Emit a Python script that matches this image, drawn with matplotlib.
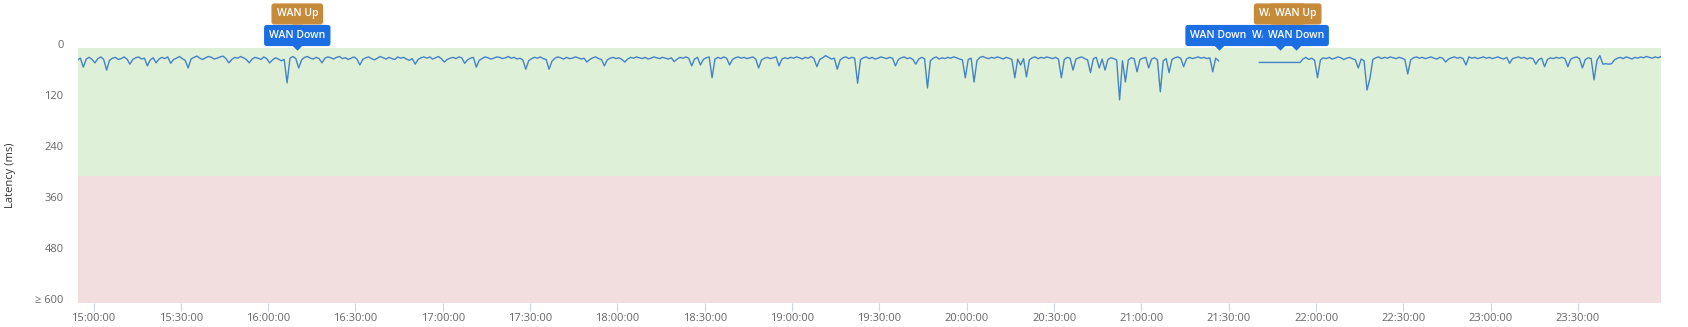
import numpy as np
import pandas as pd
import matplotlib
matplotlib.use("Agg")
import matplotlib.pyplot as plt
import matplotlib.dates as mdates
from matplotlib.transforms import ScaledTranslation

plt.rcParams['font.family'] = ['Open Sans', 'DejaVu Sans']

nan = float('nan')

# latency samples, one per minute starting 14:54:30
start_time = '2021-01-01 14:54:30'
latency = [
    28, 24, 45, 26, 22, 27, 35, 25, 21, 27, 52, 29, 24, 22, 27, 25, 21, 26, 38, 27, 23, 21, 26, 24, 42, 28, 23, 35, 26, 22,
    25, 21, 36, 27, 24, 20, 25, 29, 47, 26, 22, 19, 24, 27, 23, 20, 22, 26, 24, 21, 19, 25, 35, 27, 22, 24, 20, 23, 27, 35,
    26, 22, 24, 27, 21, 25, 35, 28, 23, 26, 30, 27, 82, 24, 20, 25, 47, 28, 22, 20, 24, 26, 22, 25, 35, 24, 21, 23, 26, 22,
    20, 25, 23, 27, 24, 21, 26, 40, 27, 23, 21, 25, 28, 24, 20, 23, 26, 22, 25, 27, 21, 24, 22, 26, 29, 25, 38, 27, 23, 21,
    24, 21, 26, 23, 20, 25, 33, 27, 24, 22, 25, 21, 23, 36, 28, 24, 22, 45, 29, 25, 21, 23, 26, 24, 21, 22, 25, 23, 20, 24,
    22, 26, 24, 28, 50, 30, 25, 22, 24, 21, 25, 27, 50, 31, 24, 21, 23, 26, 22, 25, 24, 21, 23, 26, 24, 33, 27, 23, 21, 25,
    27, 42, 28, 24, 22, 25, 23, 27, 33, 26, 22, 24, 21, 23, 25, 22, 26, 24, 21, 23, 25, 22, 24, 26, 23, 32, 26, 22, 24, 21,
    24, 42, 26, 22, 40, 27, 23, 21, 70, 26, 22, 25, 21, 24, 40, 27, 23, 21, 24, 22, 25, 23, 21, 26, 47, 28, 24, 22, 25, 23,
    21, 42, 26, 23, 25, 22, 24, 21, 23, 26, 22, 24, 20, 25, 44, 27, 23, 18, 22, 26, 24, 50, 28, 23, 21, 25, 22, 24, 83, 27,
    23, 21, 25, 22, 26, 24, 21, 23, 25, 22, 24, 42, 27, 23, 21, 25, 23, 27, 38, 26, 22, 25, 94, 30, 24, 21, 26, 23, 25, 22,
    24, 21, 23, 26, 28, 70, 27, 24, 80, 30, 22, 20, 23, 25, 22, 24, 21, 23, 26, 22, 24, 27, 70, 26, 40, 25, 68, 28, 23, 21,
    25, 22, 24, 21, 23, 25, 22, 26, 70, 27, 22, 24, 52, 26, 23, 21, 25, 28, 58, 25, 22, 47, 26, 52, 27, 23, 25, 28, 122, 30,
    80, 28, 23, 25, 56, 27, 24, 22, 47, 26, 23, 28, 103, 30, 25, 58, 27, 23, 21, 24, 44, 26, 22, 25, 23, 21, 24, 22, 25, 23,
    56, 24, 30, nan, nan, nan, nan, nan, nan, nan, nan, nan, nan, nan, nan, nan, 34, 34, 34, 34, 34, 34, 34, 34, 34, 34, 34, 34, 34, 34,
    34, 26, 22, 27, 24, 29, 70, 28, 23, 25, 22, 26, 24, 21, 23, 27, 24, 22, 25, 28, 47, 26, 30, 99, 72, 27, 23, 21, 25, 22,
    24, 21, 23, 25, 22, 24, 27, 61, 28, 23, 21, 24, 22, 25, 23, 21, 24, 26, 22, 24, 33, 26, 23, 21, 24, 22, 25, 40, 21, 24,
    22, 25, 23, 21, 24, 22, 25, 23, 21, 24, 26, 22, 36, 25, 23, 21, 24, 22, 26, 23, 25, 38, 27, 24, 44, 27, 23, 25, 22, 24,
    22, 25, 44, 26, 23, 21, 25, 47, 27, 23, 25, 75, 29, 18, 38, 37, 38, 37, 28, 24, 22, 25, 21, 23, 26, 22, 24, 21, 23, 20,
    22, 24, 21, 23, 20,
]

# status events
wan_down = ['2021-01-01 16:10:00', '2021-01-01 21:26:30', '2021-01-01 21:47:30', '2021-01-01 21:53:00']
wan_up = ['2021-01-01 16:10:00', '2021-01-01 21:47:30', '2021-01-01 21:53:00']

y_ticks = [0, 120, 240, 360, 480, 600]
y_labels = ['0', '120', '240', '360', '480', '\u2265 600']

times = pd.date_range(start_time, periods=len(latency), freq='min')

fig = plt.figure(figsize=(16.88, 3.27), dpi=100)
ax = fig.add_axes([77.5 / 1688, 1 - 303 / 327, (1661 - 77.5) / 1688, 255 / 327])

ax.axhspan(0, 300, color='#dff0d8', lw=0)
ax.axhspan(300, 600, color='#f2dede', lw=0)
ax.plot(times, latency, color='#4583c6', lw=1.0)

ax.set_xlim(times[0], times[-1])
ax.set_ylim(600, 0)
for s in ax.spines.values():
    s.set_visible(False)

ax.set_yticks(y_ticks)
ax.set_yticklabels(y_labels)
ax.tick_params(axis='y', length=0, pad=10, labelsize=8, labelcolor='#666666')
off = ScaledTranslation(0, 0.04, fig.dpi_scale_trans)
for t in ax.yaxis.get_major_ticks():
    t.label1.set_transform(t.label1.get_transform() + off)

ax.xaxis.set_major_locator(mdates.MinuteLocator(byminute=[0, 30]))
ax.xaxis.set_major_formatter(mdates.DateFormatter('%H:%M:%S'))
ax.tick_params(axis='x', length=6, width=0.8, color='#ccd6eb', pad=1.5, labelsize=8, labelcolor='#666666')

ax.set_ylabel('Latency (ms)', fontsize=8, color='#333333', labelpad=14)


def flag(t, text, color, box_pt, tri_in):
    x = mdates.date2num(pd.Timestamp(t))
    ax.annotate(text, xy=(x, 1), xycoords=('data', 'axes fraction'),
                xytext=(0, box_pt), textcoords='offset points',
                ha='center', va='center', color='white', fontsize=7.5,
                fontweight='semibold',
                bbox=dict(boxstyle='round,pad=0.42,rounding_size=0.2', fc=color, ec=color))
    tr = ax.get_xaxis_transform() + ScaledTranslation(0, tri_in, fig.dpi_scale_trans)
    ax.plot([x], [1], marker=[(-1, 0), (1, 0), (0, -1)], ms=7.5, color=color,
            transform=tr, clip_on=False, mew=0)


for t in wan_down:
    flag(t, 'WAN Down', '#1b6fe2', 9, 0.035)
for t in wan_up:
    flag(t, 'WAN Up', '#c68a3b', 24.5, 0.245)

fig.savefig('out.png', dpi=100)
